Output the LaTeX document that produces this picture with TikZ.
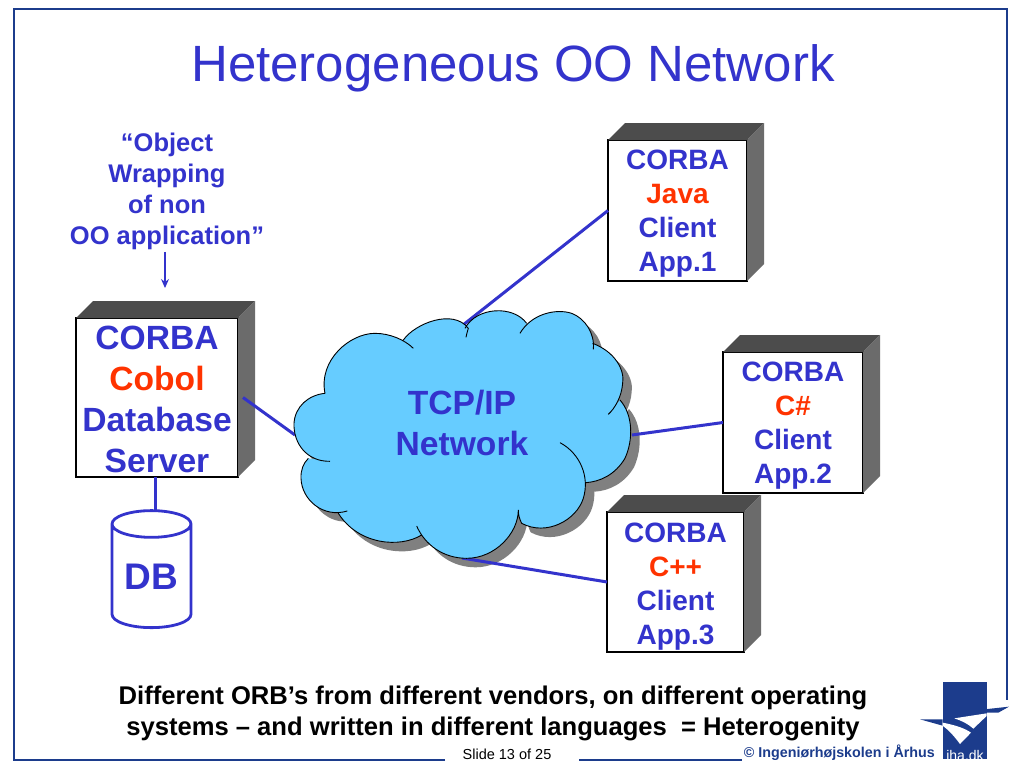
\documentclass[tikz,border=0pt]{standalone}
\usepackage{fontspec}
\setmainfont{Liberation Sans}
\usetikzlibrary{shapes.geometric,calc,arrows.meta}
\definecolor{inkblue}{HTML}{3333CC}
\definecolor{inkred}{HTML}{FF3300}
\definecolor{skyblue}{HTML}{66CCFF}
\definecolor{logoblue}{HTML}{1C3C8C}
\tikzset{
  cube/.style={draw=black, line width=2.8pt, fill=white, inner sep=0pt, outer sep=0pt, align=center, text=inkblue, font=\bfseries\fontsize{28}{34}\selectfont},
  link/.style={draw=inkblue, line width=3pt},
  frameline/.style={draw=logoblue, line width=1.1pt}
}
\newcommand{\cubefaces}[1]{
  \fill[black!70] (#1.north west) -- ++(17,-17) -- ++($(#1.north east)-(#1.north west)$) -- (#1.north east) -- cycle;
  \fill[black!58] (#1.north east) -- ++(17,-17) -- ++($(#1.south east)-(#1.north east)$) -- (#1.south east) -- cycle;
}
\def\lobeA{(105,280) .. controls (85,180) and (180,100) .. (255,100) .. controls (300,100) and (345,120) .. (370,145)}
\def\lobeB{(340,120) .. controls (375,70) and (490,25) .. (535,85) .. controls (532,95) and (530,102) .. (528,112)}
\def\lobeC{(525,85) .. controls (560,20) and (670,15) .. (710,70)}
\def\lobeD{(690,100) .. controls (725,40) and (800,25) .. (845,40) .. controls (885,55) and (915,100) .. (910,148)}
\def\lobeE{(908,130) .. controls (975,155) and (1005,210) .. (998,250) .. controls (995,290) and (975,325) .. (955,343)}
\def\lobeF{(990,300) .. controls (1030,345) and (1030,420) .. (1005,475) .. controls (975,525) and (930,545) .. (888,548)}
\def\lobeG{(810,428) .. controls (870,460) and (900,530) .. (880,595) .. controls (860,660) and (770,710) .. (695,670) .. controls (688,655) and (685,645) .. (685,630)}
\def\lobeH{(685,630) .. controls (685,700) and (615,775) .. (530,775) .. controls (460,775) and (405,735) .. (380,678)}
\def\lobeI{(395,705) .. controls (330,745) and (205,735) .. (145,640)}
\def\lobeJ{(172,633) .. controls (100,655) and (35,600) .. (33,535) .. controls (32,510) and (40,490) .. (55,475)}
\def\lobeK{(120,484) .. controls (50,485) and (10,430) .. (12,370) .. controls (15,320) and (55,285) .. (105,280)}
\begin{document}
\begin{tikzpicture}[x=1pt,y=-1pt]
  \useasboundingbox (0,0) rectangle (1024,768);
  \fill[white] (0,0) rectangle (1024,768);
  % slide frame
  \coordinate (FA) at (14,760);
  \coordinate (FB) at (14,9);
  \coordinate (FC) at (1007,9);
  \coordinate (FD) at (1007,700);
  \coordinate (FE) at (445,760);
  \coordinate (FF) at (579,760);
  \coordinate (FG) at (742,760);
  \draw[frameline] (FE) -- (FA) -- (FB) -- (FC) -- (FD);
  \draw[frameline] (FF) -- (FG);
  \node[text=inkblue, font=\fontsize{51}{60}\selectfont] (title) at (513,68) {Heterogeneous OO Network};
  % cloud shadow
  \begin{scope}[shift={(299,309)},scale=0.3333]
    \fill[black!50] \lobeA -- \lobeB -- \lobeC -- \lobeD -- \lobeE -- \lobeF -- \lobeG -- \lobeH -- \lobeI -- \lobeJ -- \lobeK -- cycle;
  \end{scope}
  % boxes
  \node[cube, minimum width=139pt, minimum height=141pt] (java) at (677.5,210.5) {\rule{0pt}{26pt}CORBA\\{\color{inkred}Java}\\Client\\App.1};
  \node[cube, minimum width=140pt, minimum height=141pt] (csharp) at (793,422.5) {\rule{0pt}{26pt}CORBA\\{\color{inkred}C\#}\\Client\\App.2};
  \node[cube, minimum width=137pt, minimum height=140pt] (cpp) at (675.5,582) {\rule{0pt}{29pt}CORBA\\{\color{inkred}C++}\\Client\\App.3};
  \node[cube, minimum width=162pt, minimum height=159pt, font=\bfseries\fontsize{33.6}{41}\selectfont] (cobol) at (157,397.5) {\rule{0pt}{27.5pt}CORBA\\{\color{inkred}Cobol}\\Database\\Server};
  \cubefaces{java}
  \cubefaces{csharp}
  \cubefaces{cpp}
  \cubefaces{cobol}
  \node[cylinder, shape border rotate=90, draw=inkblue, line width=2.8pt, fill=white, aspect=0.5, minimum width=79pt, minimum height=117pt, inner sep=0pt, outer sep=0pt, text=inkblue, font=\bfseries\fontsize{37}{44}\selectfont] (db) at (151.5,576.5) {DB};
  % links
  \coordinate (CN) at (463,325);
  \coordinate (CW) at (295,435);
  \coordinate (CE) at (632,435);
  \coordinate (CS) at (462,558);
  \draw[link] (java.west) -- (CN);
  \draw[link] (csharp.west) -- (CE);
  \draw[link] (cpp.west) -- (CS);
  \draw[link] ([xshift=5pt]cobol.east) -- (CW);
  \draw[link] ([xshift=-2pt]cobol.south) -- ([xshift=-2pt]cobol.south |- db.north);
  % cloud
  \begin{scope}[shift={(290,300)},scale=0.3333]
    \fill[skyblue] \lobeA -- \lobeB -- \lobeC -- \lobeD -- \lobeE -- \lobeF -- \lobeG -- \lobeH -- \lobeI -- \lobeJ -- \lobeK -- cycle;
    \draw[black, line width=0.9pt] \lobeA \lobeB \lobeC \lobeD \lobeE \lobeF \lobeG \lobeH \lobeI \lobeJ \lobeK;
  \end{scope}
  \node[align=center, text=inkblue, font=\bfseries\fontsize{33.6}{41}\selectfont] (net) at (462,423) {TCP/IP\\Network};
  % note above the server
  \node[align=center, text=inkblue, font=\bfseries\fontsize{25.5}{31}\selectfont] (note) at (167,191) {“Object\\Wrapping\\of non\\OO application”};
  \coordinate (NE) at (165,288);
  \draw[-{Stealth[length=9pt,width=8pt]}, inkblue, line width=1.2pt] (note.south -| NE) ++(0,-1) -- (NE);
  \node[align=center, font=\bfseries\fontsize{25.6}{31}\selectfont] (foot) at (493,713) {Different ORB’s from different vendors, on different operating\\systems – and written in different languages\ \ = Heterogenity};
  \node[font=\fontsize{14.5}{17}\selectfont] (slide) at (507,754) {Slide 13 of 25};
  \node[text=logoblue, font=\bfseries\fontsize{14.3}{18}\selectfont, anchor=east, inner sep=0pt] (copy) at (935,753) {© Ingeniørhøjskolen i Århus};
  % logo
  \begin{scope}[shift={(915,680)},scale=0.3333]
    \fill[logoblue] (83,5) rectangle (215,238);
    \fill[logoblue] (15,118) -- (83,118) -- (83,137) -- cycle;
    \fill[logoblue] (190,90) -- (282,80) -- (250,98) -- (215,98) -- cycle;
    \fill[white] (83,128) .. controls (120,135) and (150,145) .. (168,158) -- (135,192) .. controls (115,165) and (100,150) .. (83,137) -- cycle;
    \fill[white] (118,115) -- (215,100) -- (215,108) -- (175,146) .. controls (160,132) and (140,122) .. (118,115) -- cycle;
    \node[text=white, font=\fontsize{14}{16}\selectfont, inner sep=0pt] (iha) at (150,225) {iha.dk};
  \end{scope}
\end{tikzpicture}
\end{document}
